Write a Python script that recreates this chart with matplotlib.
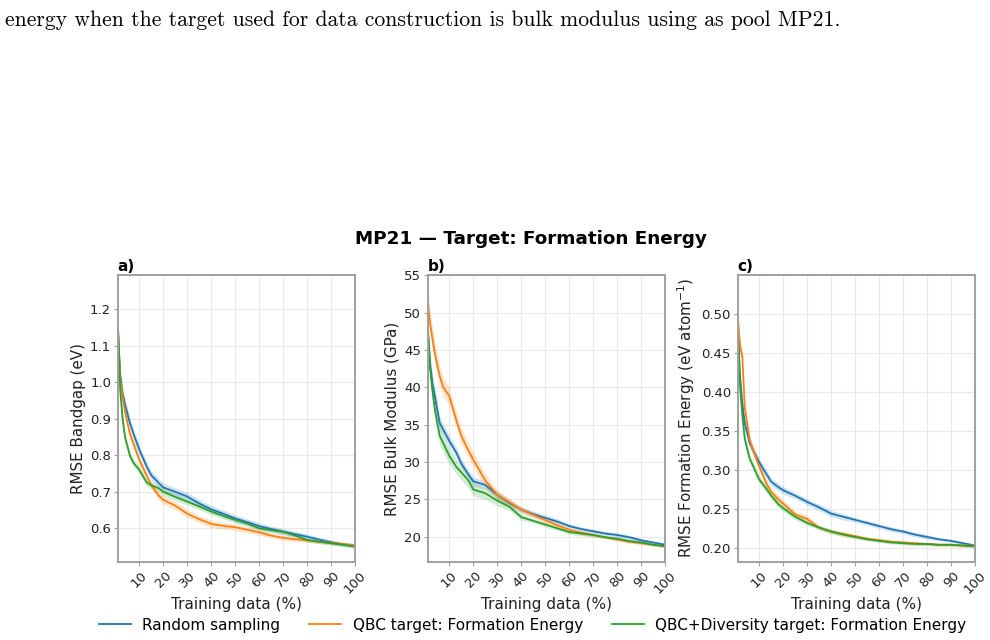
import matplotlib.pyplot as plt

# training data percentage at which the curves were read
x = [1, 2, 3, 4, 6, 7.5, 10, 13, 15, 18, 20, 25, 30, 35, 40, 45, 50, 55, 60, 65, 70, 75, 80, 85, 90, 95, 100]

# a) bandgap
bg_rand = [1.15, 1.02, 0.97, 0.94, 0.89, 0.86, 0.815, 0.77, 0.745, 0.725, 0.712, 0.70, 0.687, 0.668, 0.652, 0.640, 0.627, 0.617, 0.606, 0.598, 0.591, 0.584, 0.577, 0.569, 0.562, 0.556, 0.553]
bg_qbc = [1.15, 1.01, 0.96, 0.92, 0.86, 0.833, 0.787, 0.745, 0.718, 0.69, 0.678, 0.662, 0.640, 0.625, 0.612, 0.607, 0.603, 0.596, 0.589, 0.580, 0.574, 0.570, 0.567, 0.563, 0.560, 0.557, 0.553]
bg_div = [1.17, 0.98, 0.90, 0.85, 0.80, 0.78, 0.76, 0.726, 0.718, 0.71, 0.700, 0.686, 0.673, 0.660, 0.646, 0.634, 0.623, 0.613, 0.600, 0.595, 0.590, 0.580, 0.568, 0.563, 0.559, 0.555, 0.550]
bg_rand_sd = [0.04, 0.02, 0.018, 0.016, 0.014, 0.014, 0.013, 0.012, 0.012, 0.012, 0.012, 0.011, 0.011, 0.011, 0.010, 0.010, 0.010, 0.009, 0.009, 0.008, 0.008, 0.008, 0.007, 0.007, 0.006, 0.006, 0.006]
bg_qbc_sd = [0.04, 0.02, 0.016, 0.015, 0.013, 0.013, 0.012, 0.012, 0.012, 0.012, 0.012, 0.011, 0.011, 0.010, 0.010, 0.009, 0.009, 0.008, 0.008, 0.007, 0.007, 0.006, 0.006, 0.005, 0.005, 0.005, 0.005]
bg_div_sd = [0.04, 0.02, 0.016, 0.014, 0.012, 0.011, 0.011, 0.010, 0.010, 0.010, 0.010, 0.010, 0.009, 0.009, 0.009, 0.008, 0.008, 0.008, 0.007, 0.007, 0.007, 0.006, 0.006, 0.005, 0.005, 0.005, 0.005]

# b) bulk modulus
bm_rand = [48.0, 43.0, 40.5, 38.8, 35.2, 34.3, 32.8, 31.2, 29.8, 28.3, 27.4, 26.9, 25.6, 24.5, 23.6, 23.0, 22.5, 22.0, 21.4, 21.0, 20.7, 20.4, 20.2, 19.9, 19.5, 19.2, 18.9]
bm_qbc = [51.5, 48.5, 46.5, 44.5, 41.5, 40.0, 38.8, 35.5, 33.5, 31.5, 30.3, 27.5, 25.6, 24.6, 23.6, 22.9, 22.2, 21.5, 20.9, 20.5, 20.2, 19.9, 19.6, 19.3, 19.1, 18.9, 18.7]
bm_div = [48.0, 42.5, 39.5, 37.0, 33.5, 32.5, 30.8, 29.3, 28.6, 27.5, 26.3, 25.8, 24.8, 24.0, 22.6, 22.1, 21.6, 21.1, 20.6, 20.4, 20.2, 19.9, 19.7, 19.4, 19.2, 18.9, 18.7]
bm_rand_sd = [2.0, 1.5, 1.2, 1.0, 0.9, 0.8, 0.7, 0.7, 0.6, 0.6, 0.6, 0.5, 0.5, 0.5, 0.4, 0.4, 0.4, 0.4, 0.3, 0.3, 0.3, 0.3, 0.3, 0.3, 0.2, 0.2, 0.2]
bm_qbc_sd = [2.0, 1.8, 1.6, 1.4, 1.3, 1.3, 1.2, 1.1, 1.1, 1.0, 1.0, 0.9, 0.6, 0.5, 0.4, 0.4, 0.4, 0.3, 0.3, 0.3, 0.3, 0.2, 0.2, 0.2, 0.2, 0.2, 0.2]
bm_div_sd = [2.0, 1.6, 1.4, 1.3, 1.2, 1.2, 1.1, 1.0, 1.0, 1.0, 0.9, 0.8, 0.7, 0.5, 0.4, 0.3, 0.3, 0.3, 0.3, 0.3, 0.2, 0.2, 0.2, 0.2, 0.2, 0.2, 0.2]

# c) formation energy
fe_rand = [0.49, 0.42, 0.385, 0.36, 0.335, 0.325, 0.310, 0.295, 0.285, 0.278, 0.274, 0.267, 0.259, 0.252, 0.244, 0.240, 0.236, 0.232, 0.228, 0.224, 0.221, 0.217, 0.214, 0.211, 0.209, 0.206, 0.203]
fe_qbc = [0.50, 0.46, 0.445, 0.38, 0.34, 0.325, 0.305, 0.283, 0.272, 0.262, 0.257, 0.243, 0.237, 0.226, 0.221, 0.218, 0.215, 0.212, 0.210, 0.208, 0.207, 0.206, 0.205, 0.204, 0.204, 0.203, 0.203]
fe_div = [0.49, 0.41, 0.37, 0.34, 0.315, 0.305, 0.288, 0.276, 0.267, 0.256, 0.251, 0.240, 0.232, 0.226, 0.221, 0.217, 0.214, 0.211, 0.209, 0.207, 0.206, 0.205, 0.205, 0.204, 0.204, 0.203, 0.202]
fe_rand_sd = [0.015, 0.010, 0.008, 0.007, 0.006, 0.006, 0.006, 0.005, 0.005, 0.005, 0.005, 0.004, 0.004, 0.004, 0.004, 0.004, 0.003, 0.003, 0.003, 0.003, 0.003, 0.003, 0.003, 0.002, 0.002, 0.002, 0.002]
fe_qbc_sd = [0.015, 0.010, 0.008, 0.007, 0.006, 0.006, 0.006, 0.005, 0.005, 0.005, 0.005, 0.004, 0.004, 0.003, 0.003, 0.003, 0.003, 0.002, 0.002, 0.002, 0.002, 0.002, 0.002, 0.002, 0.002, 0.002, 0.002]
fe_div_sd = [0.015, 0.010, 0.008, 0.007, 0.006, 0.006, 0.005, 0.005, 0.005, 0.004, 0.004, 0.004, 0.003, 0.003, 0.003, 0.003, 0.002, 0.002, 0.002, 0.002, 0.002, 0.002, 0.002, 0.002, 0.002, 0.002, 0.002]

labels = ["Random sampling", "QBC target: Formation Energy", "QBC+Diversity target: Formation Energy"]
colors = ["#1f77b4", "#ff7f0e", "#2ca02c"]
xticks = [10, 20, 30, 40, 50, 60, 70, 80, 90, 100]

panels = [
    ("a)", "RMSE Bandgap (eV)", [bg_rand, bg_qbc, bg_div], [bg_rand_sd, bg_qbc_sd, bg_div_sd], (0.508, 1.294), [0.6, 0.7, 0.8, 0.9, 1.0, 1.1, 1.2], "%.1f"),
    ("b)", "RMSE Bulk Modulus (GPa)", [bm_rand, bm_qbc, bm_div], [bm_rand_sd, bm_qbc_sd, bm_div_sd], (16.6, 55.0), [20, 25, 30, 35, 40, 45, 50, 55], "%d"),
    ("c)", "RMSE Formation Energy (eV atom$^{-1}$)", [fe_rand, fe_qbc, fe_div], [fe_rand_sd, fe_qbc_sd, fe_div_sd], (0.182, 0.550), [0.20, 0.25, 0.30, 0.35, 0.40, 0.45, 0.50], "%.2f"),
]

plt.rcParams["font.family"] = ["DejaVu Sans"]

fig = plt.figure(figsize=(9.9, 6.4), dpi=100)

fig.text(0.005, 0.959, "energy when the target used for data construction is bulk modulus using as pool MP21.",
         fontname="cmr10", fontsize=15.6, ha="left", va="baseline")
fig.text(0.536, 0.627, "MP21 \u2014 Target: Formation Energy", fontsize=13.2, fontweight="bold", ha="center", va="center")

lefts = [0.119, 0.432, 0.745]
handles = []
for left, (tag, ylab, series, sds, ylim, yticks, fmt) in zip(lefts, panels):
    ax = fig.add_axes([left, 0.122, 0.240, 0.448])
    for ys, sd, c in zip(series, sds, colors):
        lo = [v - s for v, s in zip(ys, sd)]
        hi = [v + s for v, s in zip(ys, sd)]
        ax.fill_between(x, lo, hi, color=c, alpha=0.2, linewidth=0)
        h, = ax.plot(x, ys, color=c, linewidth=1.3)
        if tag == "a)":
            handles.append(h)
    ax.set_xlim(1, 100)
    ax.set_ylim(*ylim)
    ax.set_xticks(xticks)
    ax.set_xticklabels([str(t) for t in xticks], rotation=45, fontsize=9.5)
    ax.set_yticks(yticks)
    ax.set_yticklabels([fmt % t for t in yticks], fontsize=9.5)
    ax.grid(True, color="#e8e8e8", linewidth=0.8)
    ax.set_axisbelow(True)
    for sp in ax.spines.values():
        sp.set_color("#a0a0a0")
        sp.set_linewidth(1.4)
    ax.tick_params(colors="#a0a0a0", labelcolor="#222222", length=3, pad=1.8)
    ax.set_xlabel("Training data (%)", fontsize=11, labelpad=1, color="#222222")
    ax.set_ylabel(ylab, fontsize=10.9, labelpad=3, color="#222222")
    ax.text(0.0, 1.005, tag, transform=ax.transAxes, fontsize=11, fontweight="bold", ha="left", va="bottom")

fig.legend(handles, labels, loc="center", bbox_to_anchor=(0.538, 0.023), ncol=3, frameon=False,
           fontsize=11, columnspacing=1.9, handlelength=2.1, handletextpad=0.73)

fig.savefig("out.png", dpi=100)
